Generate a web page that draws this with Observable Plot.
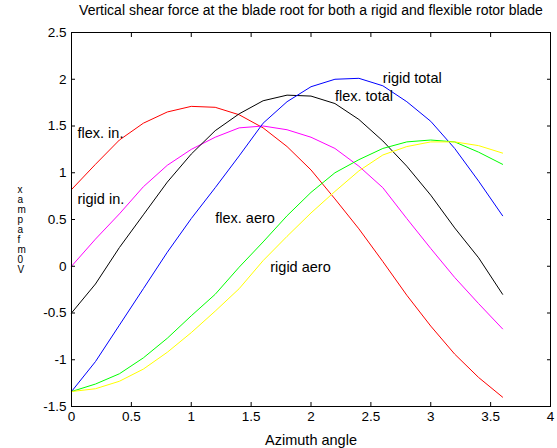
<!DOCTYPE html>
<html>
<head>
<meta charset="utf-8">
<script src="https://cdn.jsdelivr.net/npm/d3@7"></script>
<script src="https://cdn.jsdelivr.net/npm/@observablehq/plot@0.6"></script>
<style>
  html, body { margin: 0; padding: 0; background: #fff; }
  #chart svg { display: block; }
</style>
</head>
<body>
<div id="chart"></div>
<script>
// Azimuth samples
const azimuth = [0, 0.2, 0.4, 0.6, 0.8, 1.0, 1.2, 1.4, 1.6, 1.8, 2.0, 2.2, 2.4, 2.6, 2.8, 3.0, 3.2, 3.4, 3.6];

// Series values
const flexIn     = [0.82, 1.09, 1.35, 1.53, 1.65, 1.71, 1.70, 1.62, 1.48, 1.28, 1.03, 0.72, 0.40, 0.05, -0.31, -0.64, -0.94, -1.19, -1.40];
const rigidIn    = [0.00, 0.29, 0.56, 0.85, 1.08, 1.25, 1.38, 1.48, 1.50, 1.46, 1.38, 1.26, 1.07, 0.84, 0.51, 0.19, -0.12, -0.40, -0.67];
const flexTotal  = [-0.50, -0.19, 0.20, 0.55, 0.90, 1.20, 1.45, 1.63, 1.77, 1.83, 1.82, 1.74, 1.57, 1.34, 1.07, 0.76, 0.41, 0.09, -0.30];
const rigidTotal = [-1.34, -1.02, -0.63, -0.24, 0.15, 0.51, 0.84, 1.18, 1.53, 1.76, 1.92, 2.00, 2.01, 1.93, 1.76, 1.55, 1.26, 0.91, 0.54];
const flexAero   = [-1.34, -1.26, -1.15, -0.98, -0.77, -0.53, -0.30, -0.01, 0.26, 0.54, 0.79, 1.00, 1.14, 1.26, 1.33, 1.35, 1.33, 1.22, 1.09];
const rigidAero  = [-1.34, -1.31, -1.23, -1.10, -0.92, -0.71, -0.48, -0.24, 0.06, 0.32, 0.57, 0.80, 1.02, 1.19, 1.28, 1.33, 1.33, 1.29, 1.21];

const seriesNames  = ["flex. in.", "rigid in.", "flex. total", "rigid total", "flex. aero", "rigid aero"];
const seriesValues = [flexIn, rigidIn, flexTotal, rigidTotal, flexAero, rigidAero];
const seriesColors = ["#ff0000", "#ff00ff", "#000000", "#0000ff", "#00ff00", "#ffff00"];

// In-plot label anchors (data coords)
const labelX = [0.05, 0.05, 2.20, 2.60, 1.20, 1.66];
const labelY = [1.42, 0.72, 1.82, 2.01, 0.51, -0.01];

// Tick labels
const xTicks = [0, 0.5, 1, 1.5, 2, 2.5, 3, 3.5, 4];
const yTicks = [-1.5, -1, -0.5, 0, 0.5, 1, 1.5, 2, 2.5];

const titleText = "Vertical shear force at the blade root for both a rigid and flexible rotor blade";
const xLabel = "Azimuth angle";
const yLabelChars = ["x", "a", "m", "p", "a", "f", "m", "0", "V"];

const lineData = seriesNames.flatMap((name, i) =>
  azimuth.map((x, j) => ({series: name, x, y: seriesValues[i][j]})));
const labelData = seriesNames.map((name, i) => ({name, x: labelX[i], y: labelY[i]}));
const fmt = d => String(d);

const chart = Plot.plot({
  width: 557,
  height: 448,
  marginLeft: 71,
  marginRight: 7,
  marginTop: 32,
  marginBottom: 42,
  style: {fontFamily: "'Liberation Sans', Arial, sans-serif", fontSize: "13.5px", background: "#fff", color: "#000"},
  x: {domain: [0, 4]},
  y: {domain: [-1.5, 2.5]},
  color: {domain: seriesNames, range: seriesColors},
  marks: [
    Plot.line(lineData, {x: "x", y: "y", z: "series", stroke: d => d.series, strokeWidth: 1}),
    Plot.text(labelData, {x: "x", y: "y", text: "name", textAnchor: "start", fill: "#000", fontSize: 14.5}),
    // inward ticks on all sides
    Plot.axisX(xTicks, {anchor: "bottom", tickSize: -4, fill: "none", label: null}),
    Plot.axisX(xTicks, {anchor: "top", tickSize: -4, fill: "none", label: null}),
    Plot.axisY(yTicks, {anchor: "left", tickSize: -4, fill: "none", label: null}),
    Plot.axisY(yTicks, {anchor: "right", tickSize: -4, fill: "none", label: null}),
    // tick labels
    Plot.axisX(xTicks, {anchor: "bottom", tickSize: 0, tickPadding: 5, label: null, tickFormat: fmt, fill: "#000", fontSize: 13.5}),
    Plot.axisY(yTicks, {anchor: "left", tickSize: 0, tickPadding: 5, label: null, tickFormat: fmt, fill: "#000", fontSize: 13.5}),
    Plot.frame({stroke: "#000", strokeWidth: 1}),
    // title and axis labels
    Plot.text([titleText], {frameAnchor: "top", dy: -27, text: d => d, fill: "#000", fontSize: 14}),
    Plot.text([xLabel], {frameAnchor: "bottom", dy: 38, text: d => d, fill: "#000", fontSize: 14.5}),
    Plot.text([yLabelChars.join("\n")], {frameAnchor: "left", dx: -54, dy: 10, text: d => d, fill: "#000", fontSize: 10, lineHeight: 1})
  ]
});
document.getElementById("chart").appendChild(chart);
</script>
</body>
</html>
